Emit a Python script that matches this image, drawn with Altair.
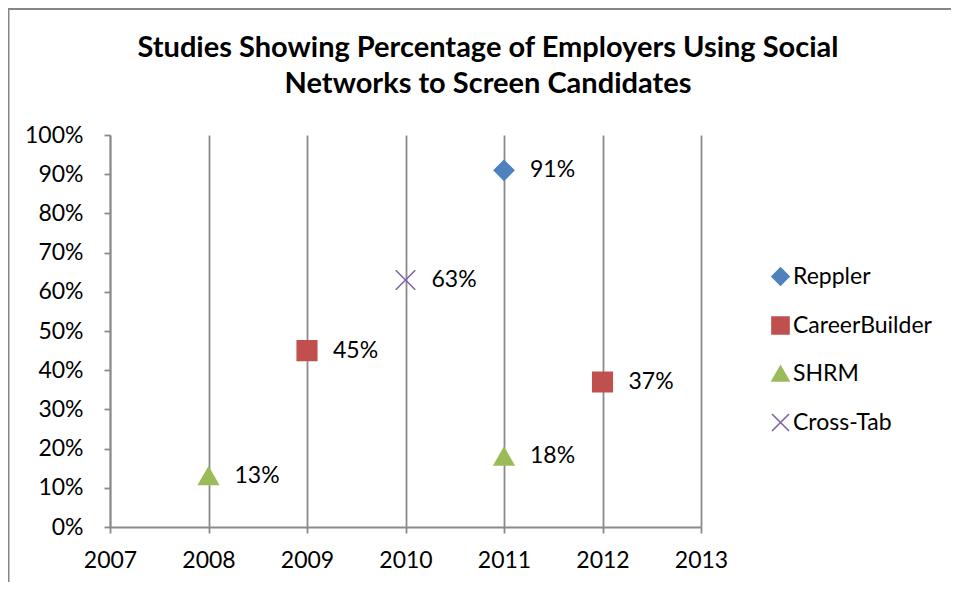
import altair as alt
import pandas as pd

series = ["Reppler", "CareerBuilder", "SHRM", "Cross-Tab"]
colors = ["#4F81BD", "#C0504D", "#9BBB59", "#8064A2"]
shapes = ["diamond", "square", "triangle-up", "M-1,-1L1,1M-1,1L1,-1"]

study = ["Reppler", "CareerBuilder", "CareerBuilder", "SHRM", "SHRM", "Cross-Tab"]
years = [2011, 2009, 2012, 2008, 2011, 2010]
values = [0.91, 0.45, 0.37, 0.13, 0.18, 0.63]
labels = ["91%", "45%", "37%", "13%", "18%", "63%"]
year_ticks = [2007, 2008, 2009, 2010, 2011, 2012, 2013]
pct_ticks = [0.0, 0.1, 0.2, 0.3, 0.4, 0.5, 0.6, 0.7, 0.8, 0.9, 1.0]
title_lines = ["Studies Showing Percentage of Employers Using Social",
               "Networks to Screen Candidates"]

df = pd.DataFrame({"Study": study, "Year": years, "Share": values, "Label": labels})

FONT = "Lato"
GRID = "#8a8a8a"
FS = 23

x = alt.X("Year:Q", scale=alt.Scale(domain=[2007, 2013], nice=False, zero=False),
          axis=alt.Axis(values=year_ticks, format="d", title=None, grid=True,
                        gridColor=GRID, gridWidth=1.8, domainColor=GRID, domainWidth=1.8,
                        tickColor=GRID, tickWidth=1.8, tickSize=6, labelPadding=16,
                        labelFontSize=FS, labelFont=FONT, labelColor="black",
                        labelOverlap=False, labelFlush=False))
y = alt.Y("Share:Q", scale=alt.Scale(domain=[0, 1], nice=False),
          axis=alt.Axis(values=pct_ticks, format=".0%", title=None, grid=False,
                        domainColor=GRID, domainWidth=1.8, tickColor=GRID, tickWidth=1.8,
                        tickSize=6, labelPadding=21, labelFontSize=FS, labelFont=FONT,
                        labelColor="black", labelOverlap=False, labelFlush=False))


def leg():
    return alt.Legend(orient="none", legendX=659, legendY=130, title=None,
                      labelFontSize=FS, labelFont=FONT, labelColor="black",
                      symbolSize=290, rowPadding=24, labelOffset=1,
                      symbolStrokeWidth=1.6, padding=0)


points = alt.Chart(df).mark_point(filled=True, size=380, strokeWidth=1.6, opacity=1).encode(
    x=x, y=y,
    fill=alt.Fill("Study:N", scale=alt.Scale(domain=series, range=colors), title=None,
                  legend=leg()),
    stroke=alt.Stroke("Study:N", scale=alt.Scale(domain=series, range=colors), title=None,
                      legend=leg()),
    shape=alt.Shape("Study:N", scale=alt.Scale(domain=series, range=shapes), title=None,
                    legend=leg()),
)

text = alt.Chart(df).mark_text(align="left", baseline="middle", dx=26, fontSize=FS,
                               font=FONT, color="black").encode(x=x, y=y, text="Label:N")

frame = alt.Chart(pd.DataFrame({"f": [0]})).mark_rect(
    fill=None, stroke="#868686", strokeWidth=2).encode(
    x=alt.value(-101.5), x2=alt.value(900), y=alt.value(-126), y2=alt.value(700))

title = alt.Chart(pd.DataFrame({"f": [0]})).mark_text(
    text=title_lines, lineHeight=36, fontSize=29, font=FONT, fontWeight="bold",
    color="black", align="center", baseline="alphabetic").encode(
    x=alt.value(378), y=alt.value(-78))

chart = alt.layer(frame, points, text, title).properties(
    width=591, height=392,
    autosize=alt.AutoSizeParams(type="none"),
    padding={"left": 102, "top": 127, "right": 250, "bottom": 55},
).configure_view(stroke=None)

chart.save("out.html", embed_options={"renderer": "svg", "actions": False})
